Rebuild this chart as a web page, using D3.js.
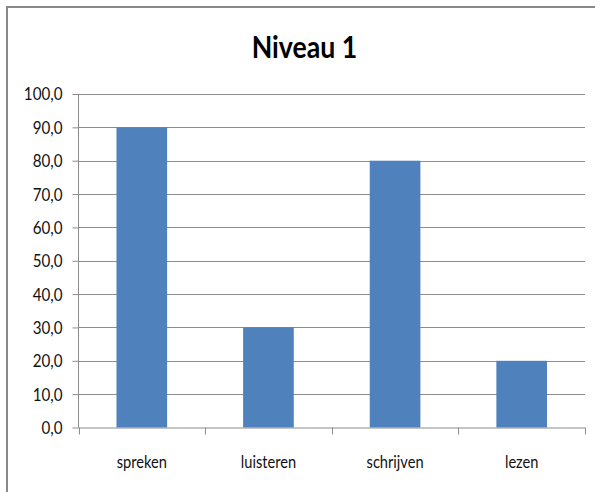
<!DOCTYPE html>
<html>
<head>
<meta charset="utf-8">
<script src="https://cdn.jsdelivr.net/npm/d3@7"></script>
<style>
  html, body { margin: 0; padding: 0; background: #fff; }
  svg { display: block; }
</style>
</head>
<body>
<svg id="chart" width="595" height="492"></svg>
<script>
const title = "Niveau 1";
const categories = ["spreken", "luisteren", "schrijven", "lezen"];
const values = [90, 30, 80, 20];
const yTicks = [0, 10, 20, 30, 40, 50, 60, 70, 80, 90, 100];

const svg = d3.select("#chart");
const W = 595, H = 492;
const plot = { left: 78.5, right: 585, top: 94, bottom: 427.5 };
const font = "Lato, 'Open Sans', sans-serif";

function condense(sel, factor) {
  sel.each(function () {
    const w = this.getComputedTextLength();
    d3.select(this).attr("textLength", w * factor).attr("lengthAdjust", "spacingAndGlyphs");
  });
}

// outer frame (only left/top visible in the crop)
svg.append("path")
  .attr("d", `M7,${H + 5} L7,7 L${W + 5},7`)
  .attr("fill", "none").attr("stroke", "#888").attr("stroke-width", 2);

const x = d3.scaleBand().domain(categories).range([plot.left, plot.right]).paddingInner(0.6).paddingOuter(0.3);
const xb = d3.scaleBand().domain(categories).range([plot.left, plot.right]);
const y = d3.scaleLinear().domain([0, 100]).range([plot.bottom, plot.top]);

// gridlines
svg.append("g").selectAll("line").data(yTicks.filter(d => d > 0)).join("line")
  .attr("x1", plot.left).attr("x2", plot.right)
  .attr("y1", d => Math.round(y(d)) + 0.5).attr("y2", d => Math.round(y(d)) + 0.5)
  .attr("stroke", "#8c8c8c").attr("stroke-width", 1);

// bars
svg.append("g").selectAll("rect").data(values).join("rect")
  .attr("x", (d, i) => x(categories[i]))
  .attr("width", x.bandwidth())
  .attr("y", d => y(d))
  .attr("height", d => y(0) - y(d))
  .attr("fill", "#4f81bd");

// y axis
const yAxis = svg.append("g").attr("transform", `translate(${plot.left},0)`)
  .call(d3.axisLeft(y).tickValues(yTicks).tickSize(6).tickPadding(10)
    .tickFormat(d => d3.format(".1f")(d).replace(".", ",")));
yAxis.select(".domain").attr("stroke", "#8c8c8c").attr("d", `M0,${plot.top}V${plot.bottom}`);
yAxis.selectAll(".tick line").attr("stroke", "#8c8c8c");
yAxis.selectAll("text").attr("font-family", font).attr("font-size", 16.5).attr("fill", "#111")
  .attr("dy", "0.36em");
condense(yAxis.selectAll("text"), 0.92);

// x axis
const xAxis = svg.append("g").attr("transform", `translate(0,${plot.bottom})`)
  .call(d3.axisBottom(xb).tickSize(0).tickPadding(0));
xAxis.select(".domain").attr("stroke", "#8c8c8c").attr("d", `M${plot.left},0.5H${plot.right}`);
xAxis.selectAll(".tick text").attr("font-family", font).attr("font-size", 17).attr("fill", "#111")
  .attr("dy", 0).attr("y", 40.5);
condense(xAxis.selectAll(".tick text"), 0.86);
// tick marks at band boundaries
svg.append("g").selectAll("line").data(categories.concat(["_end"])).join("line")
  .attr("x1", (d, i) => Math.round(i < categories.length ? xb(d) : plot.right) + 0.5)
  .attr("x2", (d, i) => Math.round(i < categories.length ? xb(d) : plot.right) + 0.5)
  .attr("y1", plot.bottom).attr("y2", plot.bottom + 7)
  .attr("stroke", "#8c8c8c");

// title
const t = svg.append("text").attr("x", 304.5).attr("y", 57.5).attr("text-anchor", "middle")
  .attr("font-family", font).attr("font-weight", "bold").attr("font-size", 31)
  .attr("fill", "#000").text(title);
condense(t, 0.86);
</script>
</body>
</html>
